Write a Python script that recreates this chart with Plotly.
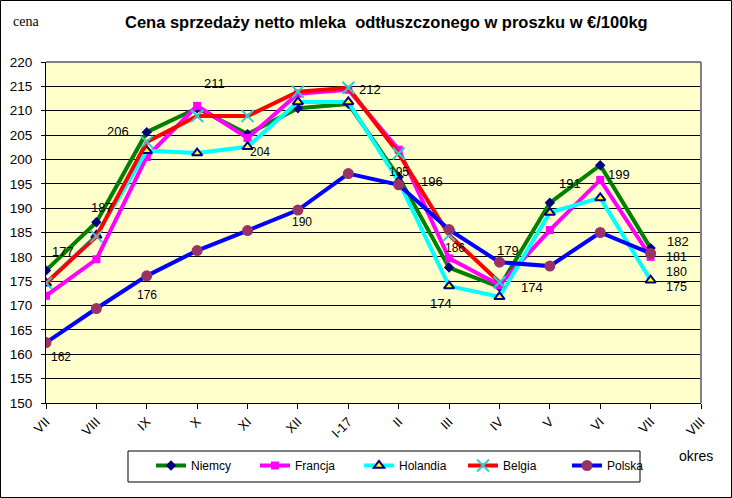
import plotly.graph_objects as go

# ---- data ----
categories = ["VII", "VIII", "IX", "X", "XI", "XII", "I-17", "II", "III", "IV", "V", "VI", "VII", "VIII"]
niemcy  = [177.2, 187.1, 205.6, 210.5, 205.2, 210.5, 211.4, 196.4, 177.8, 173.8, 191.1, 198.8, 181.8]
francja = [172.0, 179.5, 200.5, 211.0, 204.4, 213.5, 214.3, 202.0, 179.7, 174.2, 185.5, 195.8, 180.0]
holandia = [174.6, 184.4, 201.8, 201.3, 202.6, 211.8, 211.8, 195.5, 174.0, 171.8, 189.1, 192.1, 175.2]
belgia  = [174.6, 184.2, 203.6, 208.9, 208.9, 213.9, 214.7, 201.2, 184.5, 174.8, None, None, None]
polska  = [162.4, 169.4, 176.1, 181.3, 185.4, 189.6, 197.1, 194.8, 185.6, 178.9, 178.1, 185.0, 180.7]
y_ticks = list(range(150, 221, 5))

FONT = "Arial, Liberation Sans, sans-serif"

# plot area in pixels
L, R, T, B = 46, 701, 62, 403
W, H = 732, 498
PW, PH = R - L, B - T

def px(xp):
    return (xp - L) / PW

def py(yp):
    return (B - yp) / PH

series = {
    "Niemcy": dict(y=niemcy, line="#008000",
                   marker=dict(symbol="diamond", size=8, color="#000080")),
    "Francja": dict(y=francja, line="#FF00FF",
                    marker=dict(symbol="square", size=8, color="#FF00FF")),
    "Holandia": dict(y=holandia, line="#00FFFF",
                     marker=dict(symbol="triangle-up", size=9, color="#FFFF00",
                                 line=dict(color="#000080", width=2))),
    "Belgia": dict(y=belgia, line="#FF0000",
                   marker=dict(symbol="x-thin-open", size=12, color="#33CCCC",
                               line=dict(color="#33CCCC", width=2))),
    "Polska": dict(y=polska, line="#0000FF",
                   marker=dict(symbol="circle", size=11, color="#993366")),
}

fig = go.Figure()
xs = list(range(len(categories)))
for name, s in series.items():
    fig.add_trace(go.Scatter(
        x=xs[:len(s["y"])], y=s["y"], name=name, mode="lines+markers",
        line=dict(color=s["line"], width=4), marker=s["marker"],
        connectgaps=False,
    ))

# data labels: (series, index, xshift, yshift, size)
label_spec = [
    ("Niemcy", 0, 17, 19, 13), ("Polska", 0, 15, -14, 12),
    ("Niemcy", 1, 6, 15, 13), ("Niemcy", 2, -29, 1, 13),
    ("Polska", 2, 0, -19, 12), ("Francja", 3, 17, 22, 13),
    ("Francja", 4, 12, -14, 12), ("Polska", 5, 4, -12, 12),
    ("Holandia", 6, 22, 12, 13), ("Polska", 7, 0, 13, 12),
    ("Niemcy", 7, 33, -5, 13), ("Polska", 8, 6, -18, 12),
    ("Holandia", 8, -8, -17, 13), ("Polska", 9, 9, 12, 13),
    ("Niemcy", 9, 33, 0, 13), ("Niemcy", 10, 20, 19, 13),
    ("Niemcy", 11, 19, -9, 13), ("Niemcy", 12, 27, 7, 13),
    ("Polska", 12, 26, -4, 12.5), ("Francja", 12, 26, -15, 12.5),
    ("Holandia", 12, 26, -7, 12.5),
]

annotations = []
for name, i, dx, dy, sz in label_spec:
    v = series[name]["y"][i]
    annotations.append(dict(x=i, y=v, xref="x", yref="y", text=str(int(round(v))),
                            showarrow=False, xshift=dx, yshift=dy,
                            xanchor="center", yanchor="middle",
                            font=dict(family=FONT, size=sz, color="black")))

annotations += [
    dict(x=px(386), y=py(22), xref="paper", yref="paper", showarrow=False,
         xanchor="center", yanchor="middle",
         text="<b>Cena sprzedaży netto mleka  odtłuszczonego w proszku w €/100kg</b>",
         font=dict(family=FONT, size=16.5, color="black")),
    dict(x=px(26), y=py(21), xref="paper", yref="paper", showarrow=False,
         xanchor="center", yanchor="middle",
         text="cena", font=dict(family="Liberation Serif, Times New Roman, serif", size=14, color="black")),
    dict(x=px(696), y=py(456), xref="paper", yref="paper", showarrow=False,
         xanchor="center", yanchor="middle",
         text="okres", font=dict(family=FONT, size=14, color="black")),
]

shapes = [
    # outer border
    dict(type="rect", xref="paper", yref="paper", x0=px(0.5), x1=px(W - 0.5),
         y0=py(H - 0.5), y1=py(0.5), line=dict(color="black", width=1), layer="above"),
    # plot area top/right border (gray)
    dict(type="line", xref="paper", yref="paper", x0=0, x1=1, y0=1, y1=1,
         line=dict(color="#808080", width=2), layer="above"),
    dict(type="line", xref="paper", yref="paper", x0=1, x1=1, y0=0, y1=1,
         line=dict(color="#808080", width=2), layer="above"),
    # legend box
    dict(type="rect", xref="paper", yref="paper", x0=px(128), x1=px(640),
         y0=py(482), y1=py(451), line=dict(color="black", width=1),
         fillcolor="white", layer="above"),
]

fig.update_layout(
    width=W, height=H,
    margin=dict(l=L, r=W - R, t=T, b=H - B, pad=0, autoexpand=False),
    paper_bgcolor="white", plot_bgcolor="#FFFFCC",
    font=dict(family=FONT, size=12, color="black"),
    showlegend=True,
    legend=dict(orientation="h", x=px(151), y=py(451), xanchor="left", yanchor="top",
                bgcolor="rgba(0,0,0,0)", borderwidth=0,
                font=dict(family=FONT, size=12, color="black"),
                entrywidth=59, entrywidthmode="pixels"),
    annotations=annotations, shapes=shapes,
)
fig.update_xaxes(range=[0, len(categories) - 1], tickvals=xs, ticktext=categories,
                 tickangle=-45, showgrid=False, zeroline=False,
                 showline=True, linecolor="black", linewidth=1,
                 ticks="outside", ticklen=5, tickcolor="black",
                 tickfont=dict(family=FONT, size=13, color="black"))
fig.update_yaxes(range=[150, 220], tickvals=y_ticks, showgrid=True, gridcolor="black",
                 gridwidth=1, zeroline=False, showline=True, linecolor="black", linewidth=1,
                 ticks="outside", ticklen=4, tickcolor="black", ticklabelstandoff=6,
                 tickfont=dict(family=FONT, size=13.5, color="black"))

fig.write_html("out.html", config={"displayModeBar": False},
               post_script="document.body.style.margin='0';")
